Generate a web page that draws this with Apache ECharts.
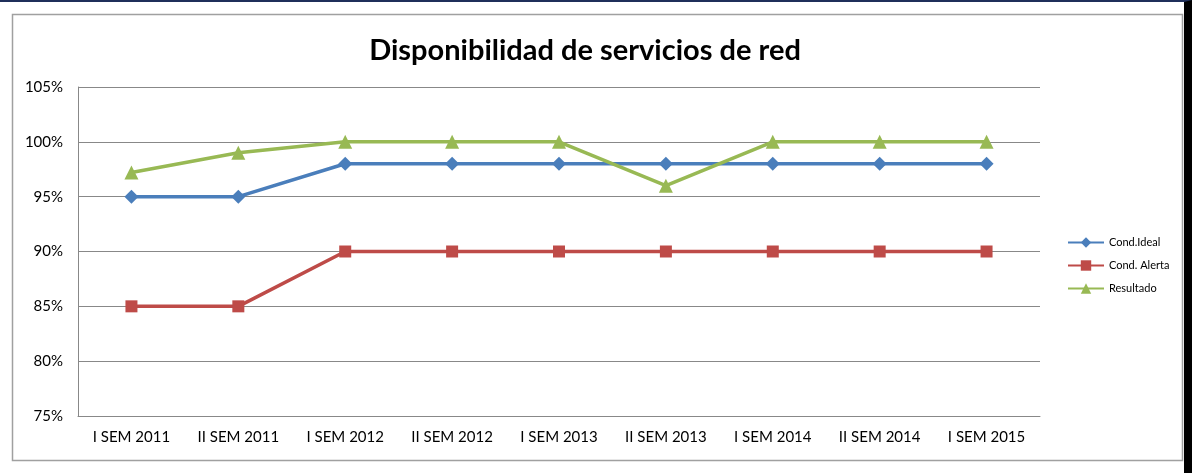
<!DOCTYPE html>
<html>
<head>
<meta charset="utf-8">
<script src="https://cdn.jsdelivr.net/npm/echarts@6/dist/echarts.min.js"></script>
<style>
  html, body { margin: 0; padding: 0; background: #fff; }
  #frame {
    position: absolute; left: 0; top: 0; width: 1184px; height: 471px;
    border-top: 2px solid #1f2f5a; border-right: 8px solid #000;
  }
  #chart { width: 1184px; height: 471px; }
</style>
</head>
<body>
<div id="frame"><div id="chart"></div></div>
<script>
const categories = ['I SEM 2011', 'II SEM 2011', 'I SEM 2012', 'II SEM 2012', 'I SEM 2013',
  'II SEM 2013', 'I SEM 2014', 'II SEM 2014', 'I SEM 2015'];
const condIdeal = [95, 95, 98, 98, 98, 98, 98, 98, 98];
const condAlerta = [85, 85, 90, 90, 90, 90, 90, 90, 90];
const resultado = [97.2, 99, 100, 100, 100, 96, 100, 100, 100];

const chart = echarts.init(document.getElementById('chart'), null, { renderer: 'canvas' });
const fontFam = 'Lato, "Open Sans", sans-serif';

const option = {
  animation: false,
  title: {
    text: 'Disponibilidad de servicios de red',
    left: 580, top: 29, textAlign: 'center',
    textStyle: { fontFamily: fontFam, fontWeight: 'bold', fontSize: 29, color: '#000' }
  },
  graphic: [
    { type: 'rect', shape: { x: 12.5, y: 12.5, width: 1170, height: 446 },
      style: { fill: null, stroke: '#a0a0a0', lineWidth: 1.5 } }
  ],
  legend: {
    orient: 'vertical', left: 1062, top: 230, itemGap: 12,
    itemWidth: 36, itemHeight: 13,
    textStyle: { fontFamily: fontFam, fontSize: 11, color: '#000' },
    data: ['Cond.Ideal', 'Cond. Alerta', 'Resultado']
  },
  grid: { left: 78, right: 1184 - 1040, top: 85, bottom: 471 - 414, containLabel: false },
  xAxis: {
    type: 'category', data: categories, boundaryGap: true,
    axisLine: { lineStyle: { color: '#888', width: 1 } },
    axisTick: { show: false },
    axisLabel: { fontFamily: fontFam, fontSize: 15, color: '#000', margin: 14, interval: 0 }
  },
  yAxis: {
    type: 'value', min: 75, max: 105, interval: 5,
    axisLine: { show: true, lineStyle: { color: '#888', width: 1 } },
    axisTick: { show: false },
    axisLabel: { fontFamily: fontFam, fontSize: 15, color: '#000', margin: 15,
      formatter: v => v + '%' },
    splitLine: { lineStyle: { color: '#888', width: 1 } }
  },
  series: [
    { name: 'Cond.Ideal', type: 'line', data: condIdeal, symbol: 'diamond', symbolSize: 14,
      lineStyle: { color: '#4a7ebb', width: 3.5 }, itemStyle: { color: '#4a7ebb' } },
    { name: 'Cond. Alerta', type: 'line', data: condAlerta, symbol: 'rect', symbolSize: 12,
      lineStyle: { color: '#be4b48', width: 3.5 }, itemStyle: { color: '#be4b48' } },
    { name: 'Resultado', type: 'line', data: resultado, symbol: 'triangle', symbolSize: 14,
      lineStyle: { color: '#98b954', width: 3.5 }, itemStyle: { color: '#98b954' } }
  ]
};

chart.setOption(option);
</script>
</body>
</html>
